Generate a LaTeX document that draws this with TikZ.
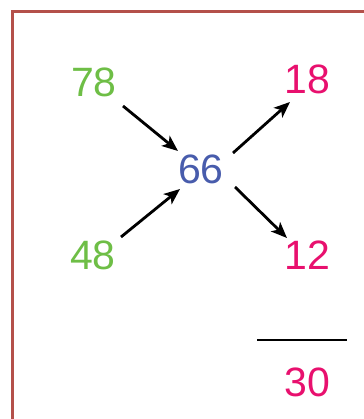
\documentclass[tikz,border=0pt]{standalone}
\usepackage{fontspec}
\setmainfont{Liberation Sans}
\usetikzlibrary{arrows.meta,calc}
\definecolor{ngreen}{RGB}{110,190,70}
\definecolor{npink}{RGB}{232,16,110}
\definecolor{nblue}{RGB}{72,92,172}
\definecolor{nborder}{RGB}{180,80,74}
\tikzset{
  num/.style={inner sep=0pt, font=\fontsize{41}{41}\selectfont},
  arr/.style={line width=2.8pt, -{Stealth[length=16pt,width=13pt,inset=4pt]}}
}
\begin{document}
\begin{tikzpicture}[x=1pt,y=1pt]
\useasboundingbox (0,0) rectangle (363,419);
\draw[nborder, line width=3pt] (12.5,-5) -- (12.5,407.5) -- (370,407.5);
\node[num, ngreen] (a) at (94,337) {78};
\node[num, ngreen] (b) at (93,164) {48};
\node[num, nblue] (c) at (201,250) {66};
\node[num, npink] (d) at (307,340) {18};
\node[num, npink] (e) at (307,164) {12};
\node[num, npink] (f) at (307,37) {30};
\coordinate (l1) at (257,79);
\coordinate (l2) at (347,79);
\draw[line width=2.5pt] (l1) -- (l2);
\draw[arr] ($(a)+(29,-24)$) -- ($(c)+(-23,18)$);
\draw[arr] ($(b)+(28,18)$) -- ($(c)+(-21,-20)$);
\draw[arr] ($(c)+(32,16)$) -- ($(d)+(-17,-23)$);
\draw[arr] ($(c)+(34,-18)$) -- ($(e)+(-20,17)$);
\end{tikzpicture}
\end{document}
